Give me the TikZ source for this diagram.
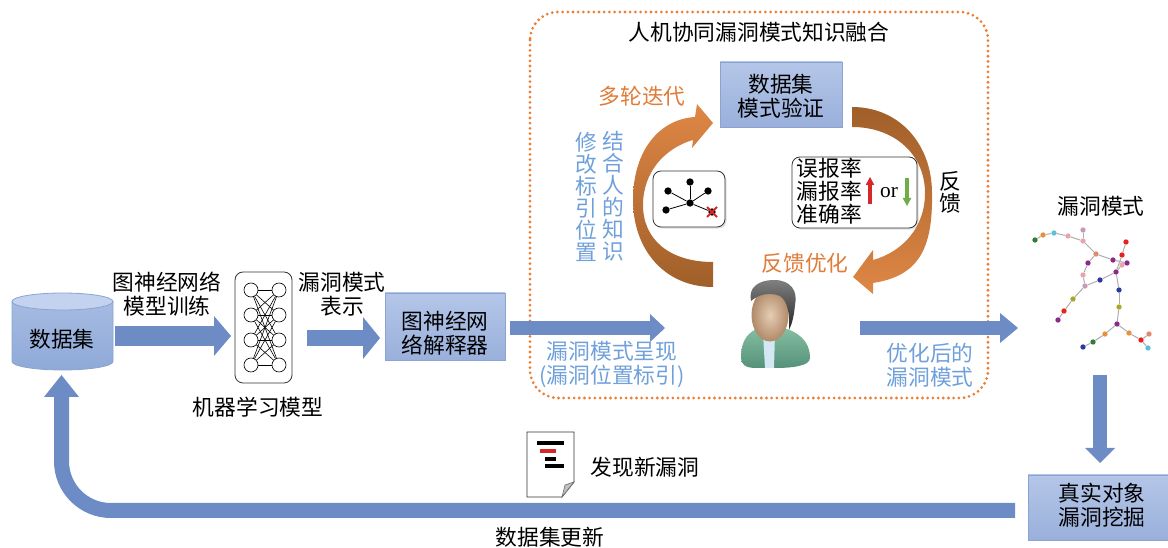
\documentclass[tikz,border=0pt]{standalone}
\usepackage{fontspec}
\setmainfont{Noto Sans CJK SC}
\newfontfamily\orfont{Liberation Serif}
\usetikzlibrary{arrows.meta,shadows}

\definecolor{boxtop}{HTML}{B4C6E8}
\definecolor{boxbot}{HTML}{9AB0DB}
\definecolor{boxedge}{HTML}{8AA3D2}
\definecolor{cyltop}{HTML}{C3D2EE}
\definecolor{cylbody}{HTML}{A6BBE2}
\definecolor{cylbot}{HTML}{8FA9D8}
\definecolor{arrowblue}{HTML}{6D8CC6}
\definecolor{dotorange}{HTML}{ED7D31}
\definecolor{labelblue}{HTML}{6FA0DA}
\definecolor{labelorange}{HTML}{E07B39}
\definecolor{arcorange}{HTML}{DF8746}
\definecolor{arcbrown}{HTML}{A05F29}
\definecolor{upred}{HTML}{D62828}
\definecolor{downgreen}{HTML}{70AD47}
\definecolor{skin}{HTML}{E6CDB5}
\definecolor{skindark}{HTML}{B08A68}
\definecolor{coat}{HTML}{86BFA2}
\definecolor{coatdark}{HTML}{55917A}
\definecolor{shirt}{HTML}{D3E8F2}
% colours of the vulnerability-pattern graph
\definecolor{gGreen}{HTML}{2E7D32}
\definecolor{gOrange}{HTML}{E8903A}
\definecolor{gCyan}{HTML}{5BC0D8}
\definecolor{gPink}{HTML}{E8A3AC}
\definecolor{gMauve}{HTML}{C49BB8}
\definecolor{gSalmon}{HTML}{E08A72}
\definecolor{gPurple}{HTML}{8A2A8A}
\definecolor{gRed}{HTML}{E82020}
\definecolor{gNavy}{HTML}{2A3A9A}
\definecolor{gOlive}{HTML}{A8A828}

\tikzset{
  lbl/.style={inner sep=0pt, align=center, font=\fontsize{16.3}{18}\selectfont},
  vlbl/.style={inner sep=0pt, align=center, font=\fontsize{16.3}{16.5}\selectfont},
  bluebox/.style={lbl, draw=boxedge, line width=0.6pt, top color=boxtop, bottom color=boxbot},
  roundbox/.style={draw=black!80, line width=0.6pt, fill=white, rounded corners=6pt,
    drop shadow={shadow xshift=1.2pt, shadow yshift=-1.2pt, opacity=0.25}},
  flow/.style n args={3}{draw=arrowblue, line width=#1,
    -{Triangle[length=#3, width=#2, line width=0pt]}},
  neuron/.style={circle, draw=black, line width=0.5pt, fill=white, minimum size=10.5pt, inner sep=0pt},
  gnode/.style={circle, fill=black, minimum size=5.5pt, inner sep=0pt},
  pnode/.style={circle, minimum size=4pt, inner sep=0pt},
  pedge/.style={draw=black!32, line width=0.75pt},
  frame/.style={draw=dotorange, line width=2.3pt, line cap=round, dash pattern=on 0pt off 3.9pt, rounded corners=21pt}
}

\begin{document}
\begin{tikzpicture}[x=0.75pt,y=-0.75pt]
\useasboundingbox (0,0) rectangle (1168,548);

% ---------- dataset cylinder ----------
\path[draw=boxedge, line width=0.6pt, top color=cylbody, bottom color=cylbot]
  (12,301.5) -- (12,361.5) .. controls (12,366.2) and (34.6,370) .. (62.5,370)
  .. controls (90.4,370) and (113,366.2) .. (113,361.5) -- (113,301.5) -- cycle;
\draw[boxedge, line width=0.6pt, fill=cyltop] (62.5,301.5) ellipse [x radius=50.5, y radius=8.5];
\node[lbl] (db) at (62,339) {数据集};

% ---------- training arrow ----------
\coordinate (a1s) at (115,336);
\coordinate (a1e) at (231,336);
\draw[flow={15pt}{30pt}{12.75pt}] (a1s) -- (a1e);
\node[lbl] (trainlbl) at (167,294.5) {图神经网络\\模型训练};

% ---------- neural network model ----------
\node[draw=black!80, line width=0.6pt, rounded corners=6pt, minimum width=42.75pt,
      minimum height=83.25pt, inner sep=0pt] (nnbox) at (263.5,327.5) {};
\foreach \i/\y in {1/290,2/315,3/340,4/365}{
  \node[neuron] (l\i) at (251,\y) {};
  \node[neuron] (r\i) at (279,\y) {};
}
\foreach \i in {1,...,4}{
  \foreach \j in {1,...,4}{
    \draw[line width=0.45pt] (l\i) -- (r\j);
  }
}
\node[lbl] (mllbl) at (258,407) {机器学习模型};

% ---------- representation arrow and explainer ----------
\coordinate (a2s) at (307,338);
\coordinate (a2e) at (380,338);
\draw[flow={12pt}{31.5pt}{12.75pt}] (a2s) -- (a2e);
\node[lbl] (replbl) at (342,294.5) {漏洞模式\\表示};
\node[bluebox, minimum width=90pt, minimum height=50.25pt] (gnnx) at (445,326.5) {};
\node[lbl] (gnnxlbl) at (445,333) {图神经网\\络解释器};

% ---------- human-machine fusion frame ----------
\draw[frame] (530,12) rectangle (988,398);
\node[lbl] (fusion) at (759,32) {人机协同漏洞模式知识融合};

\node[bluebox, minimum width=91.5pt, minimum height=48.75pt] (verify) at (781,94.5) {};
\node[lbl] (verifylbl) at (781,96) {数据集\\模式验证};

% left curved arrow (iteration)
\path[top color=arcorange, bottom color=arcbrown]
  (713,287) .. controls (665,287) and (633,250) .. (633,200)
  .. controls (633,150) and (660,119) .. (695,117)
  -- (697,104) -- (713,123) -- (692,148) -- (693,140)
  .. controls (665,148) and (643,172) .. (643,205)
  .. controls (643,240) and (670,262) .. (713,262) -- cycle;
% right curved arrow (feedback)
\path[top color=arcbrown, bottom color=arcorange]
  (852,107) .. controls (900,107) and (932,145) .. (932,193)
  .. controls (933,250) and (918,276) .. (873,283)
  -- (873,294) -- (853,277) -- (873,250) -- (873,260)
  .. controls (902,252) and (925,228) .. (925,193)
  .. controls (925,155) and (895,127) .. (852,127) -- cycle;

\node[lbl, text=labelorange] (iterlbl) at (642,96) {多轮迭代};
\node[lbl, text=labelorange] (optlbl) at (805,263) {反馈优化};
\node[vlbl, text=labelblue] (modlbl) at (586,196.5) {修\\改\\标\\引\\位\\置};
\node[vlbl, text=labelblue] (knowlbl) at (613,196.5) {结\\合\\人\\的\\知\\识};
\node[vlbl] (fblbl) at (950,192) {反\\馈};

% small graph with a removed node
\node[roundbox, minimum width=54pt, minimum height=42pt, inner sep=0pt] (gbox) at (689,199) {};
\node[gnode] (gc) at (690,203) {};
\node[gnode] (gt) at (690,182) {};
\node[gnode] (gul) at (668,191) {};
\node[gnode] (gur) at (708,191) {};
\node[gnode] (gll) at (666,210) {};
\node[gnode] (glr) at (712,212) {};
\foreach \n in {gt,gul,gur,gll,glr}{ \draw[line width=0.6pt] (gc) -- (\n); }
\draw[upred, line width=1.4pt] (707,207) -- (717,217) (717,207) -- (707,217);

% metrics box
\node[roundbox, minimum width=93.75pt, minimum height=53.25pt, inner sep=0pt] (metric) at (854.5,192.5) {};
\node[inner sep=0pt, align=center, font=\fontsize{16.3}{17.25}\selectfont] (metriclbl) at (829.5,191.5) {误报率\\漏报率\\准确率};
\coordinate (upS) at (870,204);
\coordinate (upE) at (870,177);
\draw[upred, line width=2.4pt, -{Triangle[length=6pt, width=6.5pt, line width=0pt]}] (upS) -- (upE);
\node[inner sep=0pt, font=\orfont\fontsize{16}{18}\selectfont] (orlbl) at (889,193) {or};
\coordinate (dnS) at (907,178);
\coordinate (dnE) at (907,206);
\draw[downgreen, line width=2.4pt, -{Triangle[length=6pt, width=6.5pt, line width=0pt]}] (dnS) -- (dnE);

% expert
\path[top color=coat, bottom color=coatdark]
  (741,358) .. controls (741,340) and (748,331) .. (762,327) -- (780,327)
  .. controls (797,331) and (810,340) .. (810,358)
  .. controls (810,366) and (792,368) .. (775,368) -- (756,368)
  .. controls (745,368) and (741,364) .. (741,358) -- cycle;
\fill[shirt] (763,333) -- (775,333) -- (774,368) -- (765,368) -- cycle;
\shade[inner color=skin, outer color=skindark] (770,315) ellipse [x radius=18.5, y radius=26.5];
\path[top color=black!50, bottom color=black!85]
  (751,301) .. controls (748,287) and (759,280) .. (774,280)
  .. controls (791,280) and (798,291) .. (795,305)
  .. controls (794,316) and (792,324) .. (789,330)
  .. controls (790,316) and (788,301) .. (780,296)
  .. controls (770,292) and (759,294) .. (751,301) -- cycle;
\node[inner sep=0pt, minimum width=52pt, minimum height=66pt] (expert) at (775,324) {};

% presentation and optimised-pattern arrows
\coordinate (a3s) at (510,328);
\coordinate (a3e) at (665,328);
\draw[flow={10.5pt}{21pt}{11.25pt}] (a3s) -- (a3e);
\node[lbl, text=labelblue] (showlbl) at (612,365) {漏洞模式呈现\\(漏洞位置标引)};
\coordinate (a4s) at (860,328);
\coordinate (a4e) at (1018,328);
\draw[flow={10.5pt}{22.5pt}{13.5pt}] (a4s) -- (a4e);
\node[lbl, text=labelblue] (optpatlbl) at (930,365) {优化后的\\漏洞模式};

% ---------- vulnerability pattern graph ----------
\node[lbl] (patlbl) at (1101,206) {漏洞模式};
\node[pnode, fill=gGreen]  (v1)  at (1035,240) {};
\node[pnode, fill=gOrange] (v2)  at (1043,235) {};
\node[pnode, fill=gCyan]   (v3)  at (1054,233) {};
\node[pnode, fill=gPink]   (v4)  at (1068,236) {};
\node[pnode, fill=gMauve]  (v5)  at (1083,230) {};
\node[pnode, fill=gPink]   (v6)  at (1083,241) {};
\node[pnode, fill=gSalmon] (v7)  at (1096,254) {};
\node[pnode, fill=gPurple] (v8)  at (1113,260) {};
\node[pnode, fill=gPurple] (v9)  at (1127,263) {};
\node[pnode, fill=gPink]   (v10) at (1122,265) {};
\node[pnode, fill=gRed]    (v11) at (1126,242) {};
\node[pnode, fill=gRed]    (v12) at (1122,255) {};
\node[pnode, fill=gPurple] (v13) at (1116,272) {};
\node[pnode, fill=gPurple] (v14) at (1088,263) {};
\node[pnode, fill=gPink]   (v15) at (1083,275) {};
\node[pnode, fill=gMauve]  (v16) at (1085,286) {};
\node[pnode, fill=gOlive]  (v17) at (1073,299) {};
\node[pnode, fill=gRed]    (v18) at (1064,311) {};
\node[pnode, fill=gPurple] (v19) at (1058,320) {};
\node[pnode, fill=gNavy]   (v20) at (1100,280) {};
\node[pnode, fill=gNavy]   (v21) at (1119,290) {};
\node[pnode, fill=gOlive]  (v22) at (1119,307) {};
\node[pnode, fill=gPurple] (v23) at (1117,324) {};
\node[pnode, fill=gOrange] (v24) at (1105,334) {};
\node[pnode, fill=gGreen]  (v25) at (1093,342) {};
\node[pnode, fill=gNavy]   (v26) at (1083,347) {};
\node[pnode, fill=gOrange] (v27) at (1129,333) {};
\node[pnode, fill=gRed]    (v28) at (1141,340) {};
\node[pnode, fill=gCyan]   (v29) at (1148,348) {};
\node[pnode, fill=gSalmon] (v30) at (1149,334) {};
\foreach \a/\b in {v1/v2,v2/v3,v3/v4,v4/v6,v5/v6,v6/v7,v7/v8,v8/v9,v13/v10,v13/v12,v12/v11,
                   v7/v14,v14/v15,v15/v16,v16/v17,v17/v18,v18/v19,v16/v20,v20/v13,
                   v13/v21,v21/v22,v22/v23,v23/v24,v24/v25,v25/v26,v23/v27,v27/v28,v28/v29,v28/v30}{
  \draw[pedge] (\a) -- (\b);
}

% ---------- real-world mining and dataset update ----------
\coordinate (a5s) at (1100,375);
\coordinate (a5e) at (1100,463);
\draw[flow={10.5pt}{22.5pt}{11.25pt}] (a5s) -- (a5e);
\node[bluebox, minimum width=105pt, minimum height=48.75pt] (real) at (1098,507.5) {};
\node[lbl] (reallbl) at (1102,505.5) {真实对象\\漏洞挖掘};

\coordinate (rs) at (1015,510.5);
\coordinate (rc) at (61.5,510.5);
\coordinate (re) at (61.5,375);
\draw[flow={11.25pt}{26.25pt}{16.5pt}, rounded corners=37pt] (rs) -- (rc) -- (re);
\node[lbl] (updlbl) at (550,537) {数据集更新};

% new-vulnerability report
\draw[black!80, line width=0.6pt, fill=white] (527,432) -- (574,432) -- (574,482) -- (562,497) -- (527,497) -- cycle;
\filldraw[black!60, fill=black!25, line width=0.4pt] (574,482) -- (562,497) -- (565,485) -- cycle;
\fill[black] (537,441) rectangle (564,445);
\fill[upred] (540,449) rectangle (556,453);
\fill[black] (545,457) rectangle (556,461);
\fill[black] (545,464) rectangle (564,468);
\node[lbl] (newlbl) at (645,467) {发现新漏洞};

\end{tikzpicture}
\end{document}
